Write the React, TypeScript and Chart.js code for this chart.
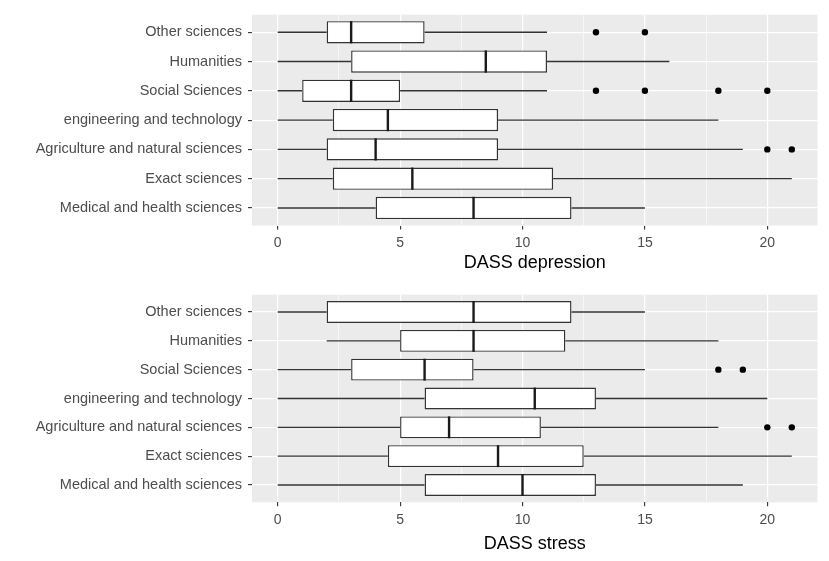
import React, { useEffect, useRef } from "react";
import { Chart, registerables } from "chart.js";

Chart.register(...registerables);

// Categories (top to bottom)
const categories = [
  "Other sciences",
  "Humanities",
  "Social Sciences",
  "engineering and technology",
  "Agriculture and natural sciences",
  "Exact sciences",
  "Medical and health sciences",
];

// DASS depression
const depLow = [0, 0, 0, 0, 0, 0, 0];
const depQ1 = [2, 3, 1, 2.25, 2, 2.25, 4];
const depMed = [3, 8.5, 3, 4.5, 4, 5.5, 8];
const depQ3 = [6, 11, 5, 9, 9, 11.25, 12];
const depHigh = [11, 16, 11, 18, 19, 21, 15];
const depOutliers: number[][] = [[13, 15], [], [13, 15, 18, 20], [], [20, 21], [], []];

// DASS stress
const strLow = [0, 2, 0, 0, 0, 0, 0];
const strQ1 = [2, 5, 3, 6, 5, 4.5, 6];
const strMed = [8, 8, 6, 10.5, 7, 9, 10];
const strQ3 = [12, 11.75, 8, 13, 10.75, 12.5, 13];
const strHigh = [15, 18, 15, 20, 18, 21, 19];
const strOutliers: number[][] = [[], [], [18, 19], [], [20, 21], [], []];

// Axis ticks (major labelled, minor as grid only)
const xTicks = [0, 2.5, 5, 7.5, 10, 12.5, 15, 17.5, 20];
const xMajor = [0, 5, 10, 15, 20];
const xMin = -1.05;
const xMax = 22.05;

const FONT = "'Liberation Sans', Arial, sans-serif";

type Box = {
  low: number[];
  q1: number[];
  med: number[];
  q3: number[];
  high: number[];
  outliers: number[][];
  title: string;
};

function makeConfig(box: Box, padTop: number, xAxisHeight: number): any {
  const boxData = categories.map((_, i) => ({ y: i + 1, x: [box.q1[i], box.q3[i]] }));
  const outlierData: { x: number; y: number }[] = [];
  box.outliers.forEach((arr, i) => arr.forEach((v) => outlierData.push({ x: v, y: i + 1 })));

  const whiskerPlugin = {
    id: "whiskers",
    beforeDatasetsDraw(chart: any) {
      const { ctx, scales } = chart;
      const xs = scales.x;
      const ys = scales.y;
      ctx.save();
      ctx.strokeStyle = "#333333";
      ctx.lineWidth = 1.4;
      categories.forEach((_, i) => {
        const y = ys.getPixelForValue(i + 1);
        ctx.beginPath();
        ctx.moveTo(xs.getPixelForValue(box.low[i]), y);
        ctx.lineTo(xs.getPixelForValue(box.q1[i]), y);
        ctx.moveTo(xs.getPixelForValue(box.q3[i]), y);
        ctx.lineTo(xs.getPixelForValue(box.high[i]), y);
        ctx.stroke();
      });
      ctx.restore();
    },
    afterDatasetsDraw(chart: any) {
      const { ctx, scales } = chart;
      const xs = scales.x;
      const ys = scales.y;
      const meta = chart.getDatasetMeta(0);
      ctx.save();
      ctx.strokeStyle = "#1a1a1a";
      ctx.lineWidth = 2.4;
      categories.forEach((_, i) => {
        const el = meta.data[i] as any;
        const half = el.height / 2;
        const y = ys.getPixelForValue(i + 1);
        const x = xs.getPixelForValue(box.med[i]);
        ctx.beginPath();
        ctx.moveTo(x, y - half);
        ctx.lineTo(x, y + half);
        ctx.stroke();
      });
      ctx.restore();
    },
  };

  const panelBg = {
    id: "panelBg",
    beforeDraw(chart: any) {
      const { ctx, chartArea } = chart;
      ctx.save();
      ctx.fillStyle = "#EBEBEB";
      ctx.fillRect(chartArea.left, chartArea.top, chartArea.right - chartArea.left, chartArea.bottom - chartArea.top);
      ctx.restore();
    },
  };

  return {
    type: "bar",
    data: {
      datasets: [
        {
          type: "bar",
          indexAxis: "y",
          data: boxData,
          backgroundColor: "#FFFFFF",
          borderColor: "#333333",
          borderWidth: 1.4,
          borderSkipped: false,
          categoryPercentage: 1,
          barPercentage: 0.76,
        },
        {
          type: "scatter",
          data: outlierData,
          pointRadius: 3.2,
          pointBackgroundColor: "#000000",
          pointBorderColor: "#000000",
          pointBorderWidth: 0,
          showLine: false,
        },
      ],
    },
    options: {
      animation: false,
      responsive: false,
      layout: { padding: { left: 0, right: 11.5, top: padTop, bottom: 0 } },
      plugins: { legend: { display: false }, tooltip: { enabled: false } },
      scales: {
        x: {
          type: "linear",
          offset: false,
          min: xMin,
          max: xMax,
          afterBuildTicks: (scale: any) => {
            scale.ticks = xTicks.map((v) => ({ value: v }));
          },
          afterFit: (scale: any) => {
            scale.height = xAxisHeight;
          },
          border: { display: false },
          grid: {
            offset: false,
            color: "#FFFFFF",
            lineWidth: (c: any) => (xMajor.includes(c.tick?.value) ? 1.2 : 0.6),
            tickColor: (c: any) => (xMajor.includes(c.tick?.value) ? "#333333" : "rgba(0,0,0,0)"),
            tickLength: 4,
            tickWidth: 1.1,
            drawOnChartArea: true,
          },
          ticks: {
            autoSkip: false,
            maxRotation: 0,
            padding: 5,
            color: "#4D4D4D",
            font: { family: FONT, size: 14 },
            callback: (v: any) => (xMajor.includes(v) ? String(v) : ""),
          },
          title: {
            display: true,
            text: box.title,
            color: "#000000",
            font: { family: FONT, size: 18 },
            padding: { top: 0, bottom: 6 },
          },
        },
        y: {
          type: "linear",
          offset: false,
          min: 0.4,
          max: 7.6,
          reverse: true,
          afterBuildTicks: (scale: any) => {
            scale.ticks = categories.map((_, i) => ({ value: i + 1 }));
          },
          afterFit: (scale: any) => {
            scale.width = 252;
          },
          border: { display: false },
          grid: {
            offset: false,
            color: "#FFFFFF",
            lineWidth: 1.2,
            tickColor: "#333333",
            tickLength: 4,
            tickWidth: 1.1,
          },
          ticks: {
            autoSkip: false,
            padding: 6,
            color: "#4D4D4D",
            font: { family: FONT, size: 14.5 },
            callback: (v: any) => categories[Math.round(v) - 1] ?? "",
          },
        },
      },
    },
    plugins: [panelBg, whiskerPlugin],
  };
}

function BoxChart({ box, height, padTop, xAxisHeight }: { box: Box; height: number; padTop: number; xAxisHeight: number }) {
  const ref = useRef<HTMLCanvasElement | null>(null);
  useEffect(() => {
    if (!ref.current) return;
    const chart = new Chart(ref.current, makeConfig(box, padTop, xAxisHeight));
    return () => chart.destroy();
  }, [box, padTop, xAxisHeight]);
  return <canvas ref={ref} width={829} height={height} style={{ display: "block", width: 829, height }} />;
}

const depBox: Box = {
  low: depLow,
  q1: depQ1,
  med: depMed,
  q3: depQ3,
  high: depHigh,
  outliers: depOutliers,
  title: "DASS depression",
};
const strBox: Box = {
  low: strLow,
  q1: strQ1,
  med: strMed,
  q3: strQ3,
  high: strHigh,
  outliers: strOutliers,
  title: "DASS stress",
};

export default function App() {
  return (
    <div style={{ position: "absolute", left: 0, top: 0, width: 829, height: 561, background: "#FFFFFF" }}>
      <BoxChart box={depBox} height={280} padTop={11.7} xAxisHeight={54.5} />
      <BoxChart box={strBox} height={281} padTop={8.3} xAxisHeight={58.7} />
    </div>
  );
}
